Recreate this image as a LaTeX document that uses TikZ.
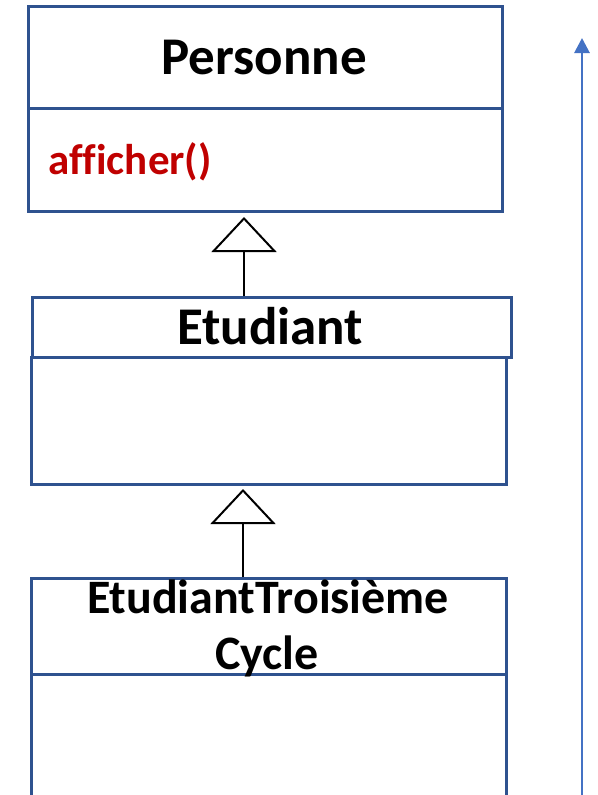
\documentclass[tikz,border=0pt]{standalone}
\usepackage{fontspec}
\setmainfont{Carlito}
\usetikzlibrary{arrows.meta}
\definecolor{boxblue}{HTML}{2F528F}
\definecolor{arrblue}{HTML}{4472C4}
\definecolor{methred}{HTML}{C00000}
\tikzset{
  umlbox/.style={draw=boxblue, line width=2.5pt, fill=white, rectangle, inner sep=0pt, anchor=north west},
  title/.style={font=\bfseries\fontsize{53}{57}\selectfont, text=black, inner sep=0pt},
  inherit/.style={draw=black, line width=2pt, -{Triangle[open, length=35pt, width=65pt, line width=2pt, fill=white]}},
}
\begin{document}
\begin{tikzpicture}[x=1pt, y=-1pt]
\useasboundingbox (0,0) rectangle (597,795);
\clip (0,0) rectangle (597,795);
% Personne
\node[umlbox, minimum width=474pt, minimum height=102pt] (pt) at (27,5) {};
\node[umlbox, minimum width=474pt, minimum height=103pt] (pb) at (27,107) {};
\node[title, anchor=base] (pn) at (264,74) {Personne};
\node[anchor=base west, inner sep=0pt, text=methred, font=\bfseries\fontsize{43}{47}\selectfont\addfontfeature{Ligatures=NoCommon}] (aff) at (48,174) {afficher()};
% Etudiant
\node[umlbox, minimum width=479pt, minimum height=60pt] (et) at (31,296) {};
\node[umlbox, minimum width=475pt, minimum height=127pt] (eb) at (30,356) {};
\node[title, anchor=base] (en) at (270,344) {Etudiant};
% EtudiantTroisiemeCycle
\node[umlbox, minimum width=475pt, minimum height=96pt] (ct) at (30,577) {};
\node[umlbox, minimum width=475pt, minimum height=140pt] (cb) at (30,673) {};
\node[title, anchor=base, font=\bfseries\fontsize{48}{52}\selectfont] (cn1) at (268,613) {EtudiantTroisième};
\node[title, anchor=base, font=\bfseries\fontsize{48}{52}\selectfont] (cn2) at (267,669) {Cycle};
% inheritance
\coordinate (s1) at (244,296);
\coordinate (a1) at (244,217);
\coordinate (s2) at (243,577);
\coordinate (a2) at (243,489);
\draw[inherit] (s1) -- (a1);
\draw[inherit] (s2) -- (a2);
% right arrow
\coordinate (rb) at (582,800);
\coordinate (rt) at (582,38);
\draw[draw=arrblue, line width=2.8pt, -{Triangle[length=15pt, width=15pt]}, arrblue] (rb) -- (rt);
\end{tikzpicture}
\end{document}
